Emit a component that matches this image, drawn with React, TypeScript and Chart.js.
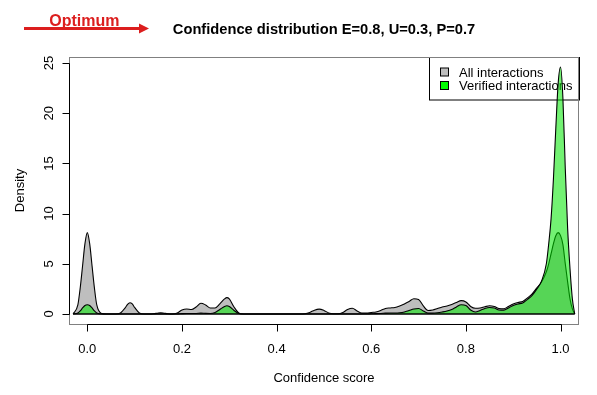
import React, { useEffect, useRef } from 'react';
import { Chart, registerables } from 'chart.js';
Chart.register(...registerables);

const FONT = '"Liberation Sans", Arial, Helvetica, sans-serif';

const titleText = 'Confidence distribution E=0.8, U=0.3, P=0.7';
const optimumText = 'Optimum';
const xAxisTitle = 'Confidence score';
const yAxisTitle = 'Density';
const seriesNames = ['All interactions', 'Verified interactions'];

const xTicks = [0, 0.2, 0.4, 0.6, 0.8, 1.0];
const xTickLabels = ['0.0', '0.2', '0.4', '0.6', '0.8', '1.0'];
const yTicks = [0, 5, 10, 15, 20, 25];
const yTickLabels = ['0', '5', '10', '15', '20', '25'];

const confidence = [
  -0.03, -0.02, -0.015, -0.01, -0.005, 0, 0.005, 0.01, 0.015, 0.02,
  0.03, 0.04, 0.05, 0.06, 0.07, 0.08, 0.085, 0.09, 0.095, 0.1,
  0.11, 0.12, 0.13, 0.14, 0.15, 0.155,
  0.16, 0.17, 0.18, 0.19, 0.2, 0.21, 0.22, 0.23, 0.24, 0.25, 0.26, 0.27, 0.28, 0.29,
  0.295, 0.3, 0.31, 0.32, 0.33, 0.35, 0.4, 0.45,
  0.46, 0.47, 0.48, 0.49, 0.5, 0.51, 0.52, 0.53, 0.54, 0.55,
  0.56, 0.57, 0.58, 0.59, 0.6, 0.61, 0.62, 0.63, 0.64, 0.65,
  0.66, 0.67, 0.68, 0.69, 0.7, 0.71, 0.72, 0.73, 0.74, 0.75,
  0.76, 0.77, 0.78, 0.79, 0.8, 0.81, 0.82, 0.83, 0.84, 0.85,
  0.86, 0.87, 0.88, 0.89, 0.9, 0.91, 0.92, 0.93, 0.94, 0.95,
  0.96, 0.97, 0.975, 0.98, 0.985, 0.99, 0.995, 1.0, 1.005, 1.01, 1.015, 1.02, 1.025, 1.03,
];

const allDensity = [
  0, 0.9, 2.6, 4.8, 7.0, 8.1, 7.0, 4.8, 2.6, 0.9,
  0.05, 0, 0, 0, 0.1, 0.6, 0.95, 1.12, 1.0, 0.65,
  0.1, 0, 0, 0.02, 0.1, 0.12,
  0.1, 0.02, 0, 0.1, 0.4, 0.5, 0.45, 0.7, 1.07, 0.9, 0.6, 0.6, 1.0, 1.5,
  1.63, 1.5, 0.7, 0.1, 0, 0, 0, 0,
  0.02, 0.15, 0.38, 0.48, 0.35, 0.1, 0.02, 0.02, 0.15, 0.45,
  0.57, 0.3, 0.08, 0.08, 0.15, 0.2, 0.35, 0.55, 0.6, 0.65,
  0.8, 1.0, 1.25, 1.52, 1.45, 0.8, 0.35, 0.4, 0.55, 0.7,
  0.8, 0.95, 1.15, 1.33, 1.2, 0.75, 0.57, 0.6, 0.72, 0.82,
  0.75, 0.55, 0.52, 0.75, 1.0, 1.15, 1.25, 1.6, 2.0, 2.6,
  3.2, 4.2, 5.0, 6.0, 7.0, 7.8, 8.1, 7.8, 6.9, 5.0, 3.2, 1.5, 0.5, 0,
];

const verifiedDensity = [
  0, 0.1, 0.3, 0.6, 0.85, 0.92, 0.85, 0.6, 0.3, 0.1,
  0, 0, 0, 0, 0, 0, 0, 0, 0, 0,
  0, 0, 0, 0, 0, 0,
  0, 0, 0, 0, 0.03, 0.05, 0.05, 0.05, 0.08, 0.06, 0.05, 0.15, 0.45, 0.75,
  0.82, 0.75, 0.35, 0.05, 0, 0, 0, 0,
  0, 0, 0, 0, 0, 0, 0, 0, 0, 0,
  0, 0, 0, 0, 0.02, 0.03, 0.05, 0.08, 0.1, 0.1,
  0.12, 0.2, 0.35, 0.5, 0.55, 0.3, 0.08, 0.08, 0.12, 0.2,
  0.3, 0.45, 0.7, 0.92, 0.85, 0.4, 0.2, 0.35, 0.55, 0.65,
  0.6, 0.4, 0.38, 0.6, 0.85, 1.0, 1.1, 1.45, 1.85, 2.5,
  3.3, 5.0, 7.0, 9.5, 13.5, 18.5, 23.0, 24.6, 21.5, 14.5, 8.5, 4.5, 1.5, 0,
];

const GRAY_FILL = '#bebebe';
const GREEN_FILL = 'rgba(0,232,0,0.55)';
const GREEN_KEY = '#00ff00';
const RED = '#dc1e1e';

export default function App() {
  const ref = useRef<HTMLCanvasElement>(null);

  useEffect(() => {
    const canvas = ref.current;
    if (!canvas) return;

    const decor = {
      id: 'rDecor',
      beforeDatasetsDraw(chart: any) {
        const ctx = chart.ctx as CanvasRenderingContext2D;
        ctx.save();
        // legend (drawn under the densities, like base R)
        const lx = 429.5, ly = 57.5, lw = 150, lh = 42.5;
        ctx.strokeStyle = '#000';
        ctx.lineWidth = 1;
        ctx.strokeRect(lx, ly, lw, lh);
        const rows = [
          { name: seriesNames[0], fill: GRAY_FILL, y: 72 },
          { name: seriesNames[1], fill: GREEN_KEY, y: 85.5 },
        ];
        ctx.font = `13px ${FONT}`;
        ctx.textAlign = 'left';
        ctx.textBaseline = 'alphabetic';
        rows.forEach((r) => {
          ctx.fillStyle = r.fill;
          ctx.fillRect(440.5, r.y - 4, 8, 8);
          ctx.strokeStyle = '#000';
          ctx.strokeRect(440.5, r.y - 4, 8, 8);
          ctx.fillStyle = '#000';
          ctx.fillText(r.name, 459, r.y + 4.5);
        });
        ctx.restore();
      },
      afterDatasetsDraw(chart: any) {
        const ctx = chart.ctx as CanvasRenderingContext2D;
        const a = chart.chartArea;
        const xs = chart.scales.x;
        const ys = chart.scales.y;
        ctx.save();
        // density baseline (closing edge of the polygons)
        ctx.strokeStyle = '#000';
        ctx.lineWidth = 1.6;
        ctx.beginPath();
        const y0 = ys.getPixelForValue(0);
        ctx.moveTo(xs.getPixelForValue(confidence[0]), y0);
        ctx.lineTo(xs.getPixelForValue(confidence[confidence.length - 1]), y0);
        ctx.stroke();
        // box
        ctx.strokeStyle = '#808080';
        ctx.lineWidth = 1;
        ctx.strokeRect(a.left + 0.5, a.top + 0.5, a.right - a.left - 1, a.bottom - a.top);
        // x axis
        ctx.strokeStyle = '#000';
        const xb = a.bottom + 0.5;
        ctx.beginPath();
        ctx.moveTo(Math.round(xs.getPixelForValue(xTicks[0])) + 0.5, xb);
        ctx.lineTo(Math.round(xs.getPixelForValue(xTicks[xTicks.length - 1])) + 0.5, xb);
        xTicks.forEach((t) => {
          const px = Math.round(xs.getPixelForValue(t)) + 0.5;
          ctx.moveTo(px, xb);
          ctx.lineTo(px, xb + 7);
        });
        ctx.stroke();
        ctx.fillStyle = '#000';
        ctx.font = `13px ${FONT}`;
        ctx.textAlign = 'center';
        ctx.textBaseline = 'alphabetic';
        xTicks.forEach((t, i) => {
          ctx.fillText(xTickLabels[i], xs.getPixelForValue(t), 352.5);
        });
        // y axis
        const yl = a.left + 0.5;
        ctx.beginPath();
        ctx.moveTo(yl, Math.round(ys.getPixelForValue(yTicks[0])) + 0.5);
        ctx.lineTo(yl, Math.round(ys.getPixelForValue(yTicks[yTicks.length - 1])) + 0.5);
        yTicks.forEach((t) => {
          const py = Math.round(ys.getPixelForValue(t)) + 0.5;
          ctx.moveTo(yl, py);
          ctx.lineTo(yl - 7, py);
        });
        ctx.stroke();
        yTicks.forEach((t, i) => {
          ctx.save();
          ctx.translate(53, ys.getPixelForValue(t));
          ctx.rotate(-Math.PI / 2);
          ctx.textAlign = 'center';
          ctx.fillText(yTickLabels[i], 0, 0);
          ctx.restore();
        });
        // axis titles
        ctx.textAlign = 'center';
        ctx.fillText(xAxisTitle, (a.left + a.right) / 2, 381.5);
        ctx.save();
        ctx.translate(23.5, (a.top + a.bottom) / 2);
        ctx.rotate(-Math.PI / 2);
        ctx.fillText(yAxisTitle, 0, 0);
        ctx.restore();
        // main title
        ctx.font = `bold 14.7px ${FONT}`;
        ctx.fillText(titleText, (a.left + a.right) / 2, 33.5);
        // Optimum arrow
        ctx.strokeStyle = RED;
        ctx.fillStyle = RED;
        ctx.lineWidth = 3;
        ctx.beginPath();
        ctx.moveTo(24, 28.5);
        ctx.lineTo(141, 28.5);
        ctx.stroke();
        ctx.beginPath();
        ctx.moveTo(149, 28.5);
        ctx.lineTo(139, 23.5);
        ctx.lineTo(139, 33.5);
        ctx.closePath();
        ctx.fill();
        ctx.font = `bold 16px ${FONT}`;
        ctx.textAlign = 'left';
        ctx.fillText(optimumText, 49.3, 26);
        ctx.restore();
      },
    };

    const toPoints = (ys: number[]) => confidence.map((x, i) => ({ x, y: ys[i] }));

    const chart = new Chart(canvas, {
      type: 'line',
      data: {
        datasets: [
          {
            label: seriesNames[1],
            data: toPoints(verifiedDensity),
            backgroundColor: GREEN_FILL,
            borderColor: '#000',
            borderWidth: 1.1,
            fill: 'origin',
            pointRadius: 0,
            cubicInterpolationMode: 'monotone',
            order: 0,
          },
          {
            label: seriesNames[0],
            data: toPoints(allDensity),
            backgroundColor: GRAY_FILL,
            borderColor: '#000',
            borderWidth: 1.1,
            fill: 'origin',
            pointRadius: 0,
            cubicInterpolationMode: 'monotone',
            order: 1,
          },
        ],
      },
      options: {
        animation: false,
        responsive: false,
        devicePixelRatio: 1,
        layout: { padding: { left: 69, right: 18, top: 57, bottom: 71 } },
        scales: {
          x: { type: 'linear', min: -0.0387, max: 1.039, display: false },
          y: { type: 'linear', min: -1.0, max: 25.6, display: false },
        },
        plugins: {
          legend: { display: false },
          tooltip: { enabled: false },
          title: { display: false },
        },
      },
      plugins: [decor],
    });
    return () => chart.destroy();
  }, []);

  return (
    <div style={{ position: 'fixed', left: 0, top: 0, width: 597, height: 395, background: '#fff' }}>
      <canvas ref={ref} width={597} height={395} style={{ display: 'block', width: 597, height: 395 }} />
    </div>
  );
}
